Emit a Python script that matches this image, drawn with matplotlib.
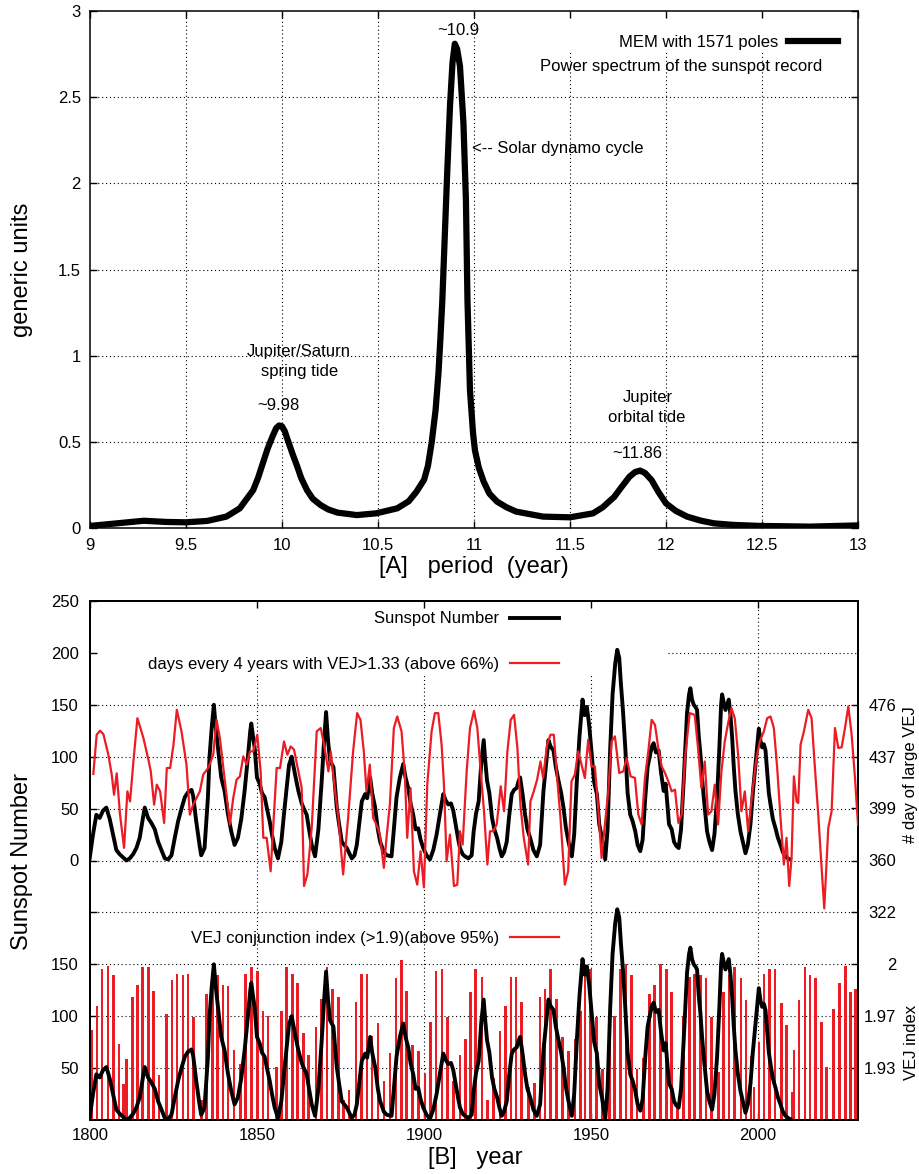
import matplotlib
matplotlib.use('Agg')
import matplotlib.pyplot as plt
from matplotlib.lines import Line2D
from matplotlib.ticker import FuncFormatter, FixedLocator

plt.rcParams['font.family'] = ['Liberation Sans', 'DejaVu Sans']

W, H = 919, 1174
def fx(px): return px / W
def fy(py): return 1 - py / H

RED = '#ec1c24'
DOT = (0, (1, 2.5))

# ---------------- Panel A : MEM power spectrum ----------------
period = [9.0, 9.14, 9.28, 9.40, 9.50, 9.61, 9.71, 9.78, 9.85, 9.875, 9.90,
          9.925, 9.95, 9.97, 9.985, 10.0, 10.015, 10.03, 10.055, 10.08, 10.10,
          10.13, 10.16, 10.20, 10.24, 10.29, 10.39, 10.49, 10.60, 10.66, 10.70,
          10.74, 10.76, 10.78, 10.80, 10.815, 10.825, 10.835, 10.848, 10.86,
          10.875, 10.888, 10.90, 10.912, 10.927, 10.945, 10.958, 10.966, 10.979,
          10.995, 11.005, 11.025, 11.05, 11.08, 11.12, 11.17, 11.22, 11.36,
          11.50, 11.62, 11.67, 11.73, 11.77, 11.81, 11.84, 11.865, 11.89,
          11.925, 11.96, 12.0, 12.05, 12.11, 12.18, 12.25, 12.35, 12.49, 12.75,
          13.0]
power = [0.012, 0.027, 0.042, 0.035, 0.033, 0.041, 0.066, 0.114, 0.22, 0.29, 0.375,
         0.46, 0.53, 0.58, 0.595, 0.59, 0.56, 0.51, 0.43, 0.355, 0.29,
         0.22, 0.17, 0.134, 0.108, 0.089, 0.075, 0.085, 0.114, 0.155, 0.21,
         0.28, 0.36, 0.5, 0.685, 0.9, 1.1, 1.32, 1.7, 2.05,
         2.45, 2.7, 2.81, 2.78, 2.68, 2.35, 1.9, 1.32, 0.8,
         0.55, 0.45, 0.35, 0.27, 0.2, 0.153, 0.12, 0.095, 0.066,
         0.062, 0.085, 0.12, 0.18, 0.24, 0.298, 0.325, 0.333, 0.32,
         0.278, 0.21, 0.143, 0.1, 0.066, 0.043, 0.027, 0.018, 0.012, 0.008,
         0.015]
xticksA = [9, 9.5, 10, 10.5, 11, 11.5, 12, 12.5, 13]
yticksA = [0, 0.5, 1, 1.5, 2, 2.5, 3]

# ---------------- Panel B data ----------------
ssn_year = [1799.9, 1800.9, 1801.9, 1802.9, 1803.9, 1804.9, 1805.9, 1806.9, 1807.9,
            1808.9, 1809.9, 1810.9, 1811.9, 1812.9, 1813.9, 1814.9, 1815.9, 1816.4,
            1817.4, 1818.4, 1819.4, 1820.4, 1821.4, 1822.4, 1823.4, 1824.4, 1825.4,
            1826.4, 1827.4, 1828.4, 1829.4, 1830.4, 1830.9, 1831.8, 1832.8, 1833.3,
            1834.3, 1835.3, 1835.8, 1836.5, 1837.1, 1837.6, 1838.3, 1839.3, 1840.3,
            1841.3, 1842.3, 1843.3, 1844.3, 1845.3, 1846.3, 1847.3, 1848.0, 1848.3,
            1848.8, 1849.3, 1850.0, 1850.8, 1851.5, 1852.3, 1853.0, 1853.8, 1854.5,
            1855.3, 1856.3, 1857.3, 1858.1, 1858.9, 1859.6, 1860.4, 1861.4, 1862.4,
            1863.4, 1863.9, 1864.9, 1865.6, 1866.4, 1867.4, 1868.4, 1869.4, 1870.0,
            1870.7, 1871.3, 1871.9, 1872.9, 1873.9, 1874.6, 1875.4, 1876.9, 1878.4,
            1879.2, 1879.9, 1880.6, 1881.4, 1882.4, 1883.0, 1883.9, 1884.5, 1885.4,
            1886.2, 1886.9, 1888.0, 1888.9, 1890.3, 1891.0, 1891.8, 1892.8, 1893.8,
            1894.5, 1895.3, 1896.0, 1896.8, 1897.5, 1898.3, 1899.0, 1899.8, 1900.8,
            1901.8, 1902.8, 1903.8, 1904.8, 1905.8, 1906.5, 1907.3, 1908.1, 1908.8,
            1909.5, 1910.3, 1910.8, 1911.6, 1912.3, 1913.3, 1914.3, 1914.9, 1915.6,
            1916.4, 1917.2, 1917.9, 1918.4, 1918.9, 1919.6, 1920.4, 1921.1, 1921.9,
            1922.6, 1923.3, 1924.0, 1924.8, 1925.5, 1926.3, 1927.0, 1927.8, 1928.3,
            1928.8, 1929.5, 1930.3, 1931.0, 1931.8, 1932.8, 1933.8, 1934.8, 1935.8,
            1936.5, 1937.3, 1937.9, 1938.8, 1939.5, 1940.3, 1941.1, 1941.8, 1942.5,
            1943.3, 1944.3, 1945.0, 1945.8, 1946.6, 1947.5, 1948.1, 1948.8, 1949.5,
            1950.3, 1951.0, 1951.8, 1952.5, 1953.3, 1954.3, 1955.0, 1955.8, 1956.5,
            1957.3, 1957.9, 1958.5, 1959.0, 1959.6, 1960.3, 1961.0, 1961.8, 1962.5,
            1963.3, 1964.0, 1964.8, 1965.5, 1966.3, 1967.0, 1967.8, 1968.3, 1968.8,
            1969.5, 1970.3, 1971.0, 1971.8, 1972.4, 1973.4, 1974.2, 1974.9, 1975.6,
            1976.3, 1977.0, 1977.8, 1978.3, 1978.8, 1979.4, 1979.8, 1980.3, 1980.8,
            1981.3, 1981.8, 1982.3, 1982.8, 1983.3, 1983.8, 1984.3, 1984.8, 1985.5,
            1986.3, 1987.0, 1987.8, 1988.5, 1989.0, 1989.3, 1989.8, 1990.3, 1990.8,
            1991.3, 1991.8, 1992.3, 1992.8, 1993.3, 1994.0, 1994.8, 1995.5, 1996.3,
            1997.0, 1997.8, 1998.5, 1999.3, 1999.8, 2000.3, 2000.8, 2001.3, 2001.8,
            2002.3, 2002.8, 2003.3, 2003.8, 2004.5, 2005.3, 2006.0, 2006.8, 2007.5,
            2008.3, 2009.0, 2009.6]
ssn = [2, 25, 44, 41, 48, 51, 40, 25, 10, 6, 3, 0, 2, 6, 12, 22, 42, 51,
       41, 36, 30, 18, 10, 2, 1, 5, 22, 38, 50, 61, 66, 68, 62, 38, 15, 5,
       12, 60, 100, 130, 150, 130, 109, 80, 67, 45, 28, 15, 22, 40, 67, 100, 125, 132,
       120, 109, 80, 74, 65, 61, 50, 38, 25, 12, 2, 18, 45, 70, 92, 100, 83, 67,
       55, 51, 44, 30, 15, 4, 30, 77, 110, 143, 115, 96, 90, 51, 35, 18, 12, 2,
       5, 15, 35, 57, 64, 60, 80, 65, 51, 30, 18, 8, 5, 4, 30, 61, 80, 93,
       80, 70, 55, 44, 30, 31, 20, 12, 5, 1, 10, 25, 45, 64, 58, 54, 55, 48,
       35, 20, 12, 6, 4, 2, 5, 28, 45, 57, 95, 116, 95, 77, 65, 41, 30, 22,
       12, 4, 8, 18, 42, 64, 68, 70, 76, 80, 65, 44, 30, 22, 10, 4, 15, 67,
       90, 116, 110, 106, 90, 77, 65, 51, 32, 18, 4, 25, 77, 120, 155, 140, 148, 130,
       100, 75, 64, 35, 22, 1, 30, 109, 160, 190, 203, 195, 170, 145, 109, 65, 44, 38,
       28, 15, 9, 20, 61, 90, 103, 110, 113, 104, 106, 85, 67, 74, 35, 30, 18, 14,
       12, 30, 77, 110, 142, 160, 166, 155, 150, 148, 145, 120, 103, 80, 61, 45, 28, 18,
       10, 25, 61, 110, 150, 160, 152, 145, 150, 155, 140, 119, 90, 67, 45, 28, 18, 7,
       15, 35, 65, 93, 110, 127, 115, 109, 112, 106, 85, 65, 54, 40, 31, 22, 15, 8,
       4, 2, 1]

days_year = [1801.0, 1802.0, 1803.0, 1804.0, 1805.5, 1806.5, 1807.2, 1808.0, 1809.0,
             1810.2, 1811.2, 1812.0, 1813.0, 1814.2, 1816.0, 1817.5, 1818.2, 1819.2,
             1820.0, 1821.0, 1822.2, 1823.0, 1824.0, 1825.0, 1826.0, 1827.4, 1828.9,
             1829.9, 1830.9, 1831.9, 1832.9, 1833.9, 1835.4, 1836.9, 1837.9, 1838.9,
             1840.4, 1841.9, 1842.9, 1843.9, 1844.9, 1845.9, 1846.9, 1847.9, 1848.9,
             1850.1, 1851.1, 1851.9, 1852.9, 1854.1, 1855.9, 1856.9, 1858.1, 1859.1,
             1860.1, 1861.1, 1862.4, 1863.4, 1864.1, 1865.1, 1866.4, 1867.9, 1869.1,
             1870.1, 1871.4, 1872.1, 1873.4, 1874.4, 1875.8, 1877.3, 1878.8, 1880.0,
             1881.0, 1882.0, 1882.8, 1883.8, 1884.8, 1885.8, 1886.8, 1888.0, 1888.8,
             1889.8, 1891.0, 1892.0, 1893.3, 1894.3, 1895.0, 1896.0, 1897.0, 1898.0,
             1899.0, 1900.0, 1901.0, 1902.3, 1903.3, 1904.3, 1905.3, 1906.0, 1906.8,
             1907.8, 1909.0, 1910.0, 1910.8, 1911.6, 1912.8, 1913.8, 1915.0, 1916.0,
             1917.0, 1918.0, 1919.0, 1919.8, 1920.8, 1921.8, 1923.0, 1924.0, 1925.0,
             1926.0, 1927.0, 1928.0, 1928.9, 1929.9, 1931.2, 1931.9, 1932.9, 1933.9,
             1934.9, 1935.7, 1936.9, 1937.9, 1938.9, 1939.9, 1940.9, 1942.2, 1943.2,
             1944.2, 1945.2, 1946.2, 1947.2, 1948.2, 1949.2, 1950.2, 1951.2, 1952.2,
             1953.2, 1954.2, 1955.2, 1956.2, 1957.2, 1958.5, 1959.7, 1960.7, 1961.9,
             1963.2, 1964.2, 1965.2, 1966.2, 1967.2, 1968.2, 1969.2, 1970.2, 1971.2,
             1972.2, 1973.2, 1974.2, 1975.2, 1976.2, 1977.2, 1978.2, 1979.6, 1981.1,
             1982.1, 1983.1, 1984.1, 1985.1, 1986.1, 1987.1, 1988.1, 1989.1, 1990.1,
             1991.1, 1992.1, 1993.1, 1994.1, 1995.1, 1996.1, 1997.1, 1998.4, 1999.6,
             2000.6, 2001.8, 2002.8, 2003.8, 2004.8, 2005.8, 2006.8, 2007.8, 2008.6,
             2009.4, 2010.1, 2010.8, 2011.6, 2012.1, 2012.8, 2013.8, 2015.1, 2016.1,
             2017.1, 2018.1, 2019.1, 2019.9, 2021.1, 2022.1, 2023.1, 2024.1, 2025.1,
             2026.1, 2027.1, 2028.1, 2029.1, 2030.0]
days = [424.5, 453.7, 456.7, 454.2, 438.8, 424.0, 409.0, 425.0, 394.0,
        369.4, 411.5, 404.0, 433.8, 466.0, 451.2, 435.0, 426.4, 401.6,
        416.5, 411.5, 388.0, 428.9, 428.9, 446.3, 472.3, 456.2, 431.4,
        394.2, 401.6, 406.6, 411.5, 424.0, 428.9, 438.8, 464.8, 451.2,
        418.9, 386.8, 406.6, 420.2, 422.7, 437.6, 431.4, 441.3, 441.3,
        453.7, 426.4, 376.9, 376.9, 352.0, 428.9, 428.9, 448.7, 438.8,
        445.0, 442.6, 426.4, 414.0, 341.0, 349.6, 384.3, 456.2, 458.7,
        446.3, 426.4, 441.3, 411.5, 391.7, 349.6, 391.7, 441.3, 469.8,
        464.8, 441.3, 411.5, 431.4, 391.7, 386.8, 379.3, 354.5, 376.9,
        401.6, 458.7, 467.3, 456.2, 424.0, 376.9, 414.0, 352.0, 342.0,
        366.9, 340.0, 416.5, 456.2, 469.8, 469.8, 446.3, 416.5, 359.5,
        379.3, 341.0, 342.0, 381.8, 371.9, 426.4, 458.7, 471.5, 458.7,
        426.4, 396.7, 357.0, 381.8, 381.8, 386.8, 415.3, 396.7, 441.3,
        464.8, 468.5, 443.8, 401.6, 376.9, 357.0, 404.0, 411.5, 420.2,
        433.8, 421.5, 446.3, 453.7, 453.7, 421.5, 391.7, 342.0, 352.0,
        419.0, 424.0, 441.3, 431.4, 421.5, 450.0, 430.1, 430.1, 399.1,
        361.9, 386.8, 411.5, 448.7, 452.5, 425.2, 426.4, 436.3, 422.7,
        421.5, 394.2, 386.8, 421.5, 441.3, 464.8, 461.1, 443.8, 430.1,
        425.2, 419.0, 411.5, 412.8, 388.0, 394.2, 436.3, 469.8, 468.5,
        443.8, 414.0, 433.8, 394.2, 396.7, 416.5, 386.8, 426.4, 448.7,
        462.4, 473.5, 466.0, 438.8, 396.7, 411.5, 381.8, 411.5, 436.3,
        448.7, 456.2, 466.0, 467.3, 458.7, 428.9, 391.7, 357.0, 376.9,
        341.0, 361.9, 422.7, 404.0, 402.8, 446.3, 456.2, 472.3, 466.0,
        428.9, 394.2, 354.5, 324.3, 384.3, 396.7, 458.7, 443.8, 444.3,
        458.7, 474.8, 453.7, 421.5, 386.8]

vej_year = [1800.4, 1802.1, 1803.6, 1805.4, 1807.0, 1808.7, 1810.1, 1810.9, 1812.7,
            1814.2, 1815.8, 1817.5, 1819.1, 1820.7, 1822.9, 1824.6, 1826.1, 1827.8,
            1829.4, 1831.0, 1833.4, 1834.9, 1836.6, 1838.1, 1839.8, 1841.3, 1843.1,
            1845.0, 1846.5, 1848.4, 1850.1, 1851.8, 1853.3, 1855.9, 1857.3, 1858.9,
            1860.6, 1862.2, 1863.9, 1865.4, 1867.7, 1869.3, 1871.0, 1872.7, 1874.4,
            1875.9, 1877.6, 1879.7, 1881.3, 1882.9, 1884.5, 1886.2, 1888.0, 1889.8,
            1891.6, 1893.2, 1894.8, 1896.6, 1898.3, 1900.3, 1902.0, 1903.6, 1905.4,
            1907.1, 1908.9, 1910.8, 1912.4, 1914.0, 1915.5, 1917.4, 1919.1, 1920.9,
            1922.8, 1924.4, 1926.1, 1927.6, 1929.3, 1931.3, 1933.1, 1934.8, 1936.3,
            1938.0, 1939.7, 1941.5, 1943.3, 1945.2, 1946.9, 1948.3, 1949.9, 1951.6,
            1953.4, 1955.5, 1957.1, 1958.9, 1960.5, 1962.1, 1963.8, 1965.8, 1967.6,
            1969.1, 1970.8, 1972.6, 1974.1, 1975.9, 1977.8, 1979.5, 1981.1, 1982.8,
            1984.5, 1986.1, 1988.2, 1989.8, 1991.4, 1993.1, 1995.0, 1996.5, 1998.0,
            1998.8, 2000.3, 2001.8, 2003.5, 2005.1, 2007.0, 2008.5, 2010.3, 2010.8,
            2012.3, 2014.1, 2015.6, 2017.3, 2019.0, 2020.6, 2022.7, 2024.4, 2026.2,
            2027.7, 2029.3]
vej = [1.958, 1.973, 1.997, 1.999, 1.993, 1.949, 1.923, 1.939, 1.979,
       1.987, 1.998, 1.998, 1.983, 1.929, 1.968, 1.990, 1.994, 1.993,
       1.994, 1.966, 1.913, 1.981, 1.993, 1.993, 1.987, 1.986, 1.945,
       1.936, 1.994, 1.998, 1.996, 1.970, 1.967, 1.934, 1.970, 1.998,
       1.994, 1.988, 1.956, 1.942, 1.960, 1.978, 1.998, 1.984, 1.979,
       1.913, 1.919, 1.976, 1.994, 1.994, 1.954, 1.962, 1.925, 1.943,
       1.991, 2.003, 1.983, 1.948, 1.944, 1.930, 1.963, 1.996, 1.997,
       1.966, 1.925, 1.942, 1.952, 1.982, 1.997, 1.992, 1.913, 1.927,
       1.957, 1.973, 1.992, 1.992, 1.976, 1.921, 1.924, 1.979, 1.984,
       1.997, 1.978, 1.953, 1.944, 1.952, 1.970, 1.999, 1.997, 1.966,
       1.933, 1.965, 1.967, 1.997, 2.000, 1.993, 1.933, 1.940, 1.981,
       1.987, 2.000, 1.997, 1.982, 1.908, 1.967, 1.992, 1.994, 1.993,
       1.991, 1.966, 1.931, 1.982, 1.993, 1.998, 1.991, 1.977, 1.941,
       1.921, 1.950, 1.994, 1.997, 1.997, 1.975, 1.961, 1.918, 1.945,
       1.977, 1.998, 1.993, 1.991, 1.963, 1.934, 1.971, 1.988, 1.999,
       1.982, 1.984]
VEJ_BASE = 1.9

xticksB = [1800, 1850, 1900, 1950, 2000]
ssn_ticks = [-200, -150, -100, -50, 0, 50, 100, 150, 200, 250]
ssn_ticklabels = ['50', '100', '150', '', '0', '50', '100', '150', '200', '250']
days_ticks = [476, 437, 399, 360, 322]
vej_ticks = [1.9333, 1.9667, 2.0]

fig = plt.figure(figsize=(9.19, 11.74), dpi=100)

gfmt = FuncFormatter(lambda v, p: f"{round(v, 2):g}")
gkw = dict(color='black', lw=0.8, ls=DOT, zorder=1)

# ---------------- Panel A ----------------
axA = fig.add_axes([fx(90), fy(528), fx(858) - fx(90), fy(11) - fy(528)])
axA.plot(period, power, color='black', lw=4.5, solid_joinstyle='round',
         solid_capstyle='butt', zorder=3)
axA.set_xlim(9, 13)
axA.set_ylim(0, 3)
axA.xaxis.set_major_locator(FixedLocator(xticksA))
axA.yaxis.set_major_locator(FixedLocator(yticksA))
axA.xaxis.set_major_formatter(gfmt)
axA.yaxis.set_major_formatter(gfmt)
axA.tick_params(direction='in', top=True, right=True, length=5, width=1,
                labelsize=12)
axA.tick_params(axis='x', pad=7)
axA.tick_params(axis='y', pad=6.5)
for s in axA.spines.values():
    s.set_linewidth(1.1)
for x in [9.5, 10, 10.5, 11]:
    axA.axvline(x, **gkw)
for x in [11.5, 12, 12.5]:
    axA.axvline(x, ymax=(528 - 50) / 517, **gkw)
for y in [0.5, 1, 1.5, 2, 2.5]:
    axA.axhline(y, **gkw)

legA = axA.legend(handles=[Line2D([], [], color='black', lw=4.5)],
                  labels=['MEM with 1571 poles'], loc='center right',
                  bbox_to_anchor=(fx(838), fy(42)), bbox_transform=fig.transFigure,
                  frameon=False, fontsize=12, handlelength=3.0, handletextpad=0.6,
                  borderpad=0, borderaxespad=0, markerfirst=False)
fig.text(fx(681), fy(66), 'Power spectrum of the sunspot record', fontsize=12,
         ha='center', va='center')

tkw = dict(fontsize=12, ha='center', va='center', transform=axA.transData)
axA.text(10.917, 2.885, '~10.9', **tkw)
axA.text(10.99, 2.205, '<-- Solar dynamo cycle', fontsize=12, ha='left',
         va='center')
axA.text(10.089, 1.027, 'Jupiter/Saturn', **tkw)
axA.text(10.094, 0.911, 'spring tide', **tkw)
axA.text(9.98, 0.708, '~9.98', **tkw)
axA.text(11.906, 0.760, 'Jupiter', **tkw)
axA.text(11.90, 0.644, 'orbital tide', **tkw)
axA.text(11.849, 0.435, '~11.86', **tkw)

fig.text(fx(22), fy(270), 'generic units', fontsize=17, rotation=90,
         ha='center', va='center')
fig.text(fx(474), fy(567), '[A]   period  (year)', fontsize=17,
         ha='center', va='center')

# ---------------- Panel B ----------------
axB = fig.add_axes([fx(90), fy(1120), fx(858) - fx(90), fy(601) - fy(1120)])
axV = axB.twinx()   # VEJ index bars
axL = axB.twinx()   # sunspot, lower copy
axD = axB.twinx()   # days with large VEJ

axB.set_xlim(1800, 2030)
axB.set_ylim(-250, 250)
axB.plot(ssn_year, ssn, color='black', lw=2.8, zorder=3)
axB.xaxis.set_major_locator(FixedLocator(xticksB))
axB.yaxis.set_major_locator(FixedLocator(ssn_ticks))
axB.set_yticklabels(ssn_ticklabels)
axB.tick_params(direction='in', top=True, length=5, width=1, labelsize=12)
axB.tick_params(axis='x', pad=6)
axB.tick_params(axis='y', pad=8)
for s in axB.spines.values():
    s.set_linewidth(1.1)

for x in [1850, 1900, 1950]:
    axB.axvline(x, ymax=(1120 - 674) / 519, **gkw)
axB.axvline(2000, **gkw)
axB.axhline(200, xmin=(668 - 90) / 768, **gkw)
for y in [150, 100, 50, 0, -50, -100, -150, -200]:
    axB.axhline(y, **gkw)

# VEJ bars
axV.set_ylim(VEJ_BASE, VEJ_BASE + 1 / 3)
axV.bar(vej_year, [v - VEJ_BASE for v in vej], bottom=VEJ_BASE, width=0.78,
        color=RED, linewidth=0, zorder=2)
axV.yaxis.set_major_locator(FixedLocator(vej_ticks))
axV.yaxis.set_major_formatter(gfmt)
axV.tick_params(axis='y', direction='in', length=5, width=1, labelsize=12, pad=27.5)
for lab in axV.get_yticklabels():
    lab.set_horizontalalignment('right')

# lower sunspot copy
axL.set_ylim(0, 500)
axL.plot(ssn_year, ssn, color='black', lw=2.8, zorder=3)
axL.tick_params(axis='y', right=False, labelright=False)

# days with large VEJ
axD.set_ylim(360 - 250 * 116 / 150, 360 + 250 * 116 / 150)
lineD, = axD.plot(days_year, days, color=RED, lw=1.6, zorder=3)
axD.yaxis.set_major_locator(FixedLocator(days_ticks))
axD.tick_params(axis='y', direction='in', length=5, width=1, labelsize=12, pad=27.5)
for lab in axD.get_yticklabels():
    lab.set_horizontalalignment('right')
for a in (axV, axL, axD):
    for s in a.spines.values():
        s.set_linewidth(1.1)

legB = axD.legend(handles=[Line2D([], [], color='black', lw=2.8),
                           Line2D([], [], color=RED, lw=1.6)],
                  labels=['Sunspot Number',
                          'days every 4 years with VEJ>1.33 (above 66%)'],
                  loc='center right', bbox_to_anchor=(fx(559), fy(641.5)),
                  bbox_transform=fig.transFigure, frameon=False, fontsize=12,
                  handlelength=2.95, handletextpad=0.65, labelspacing=1.82,
                  borderpad=0, borderaxespad=0, markerfirst=False)
legV = axD.legend(handles=[Line2D([], [], color=RED, lw=1.6)],
                  labels=['VEJ conjunction index (>1.9)(above 95%)'],
                  loc='center right', bbox_to_anchor=(fx(559), fy(938)),
                  bbox_transform=fig.transFigure, frameon=False, fontsize=12,
                  handlelength=2.95, handletextpad=0.65,
                  borderpad=0, borderaxespad=0, markerfirst=False)
axD.add_artist(legB)

fig.text(fx(22), fy(862), 'Sunspot Number', fontsize=17, rotation=90,
         ha='center', va='center')
fig.text(fx(475), fy(1158), '[B]   year', fontsize=17, ha='center', va='center')
fig.text(fx(911), fy(775), '# day of large VEJ', fontsize=12, rotation=90,
         ha='center', va='center')
fig.text(fx(911), fy(1042), 'VEJ index', fontsize=12, rotation=90,
         ha='center', va='center')

fig.savefig('out.png', dpi=100)
